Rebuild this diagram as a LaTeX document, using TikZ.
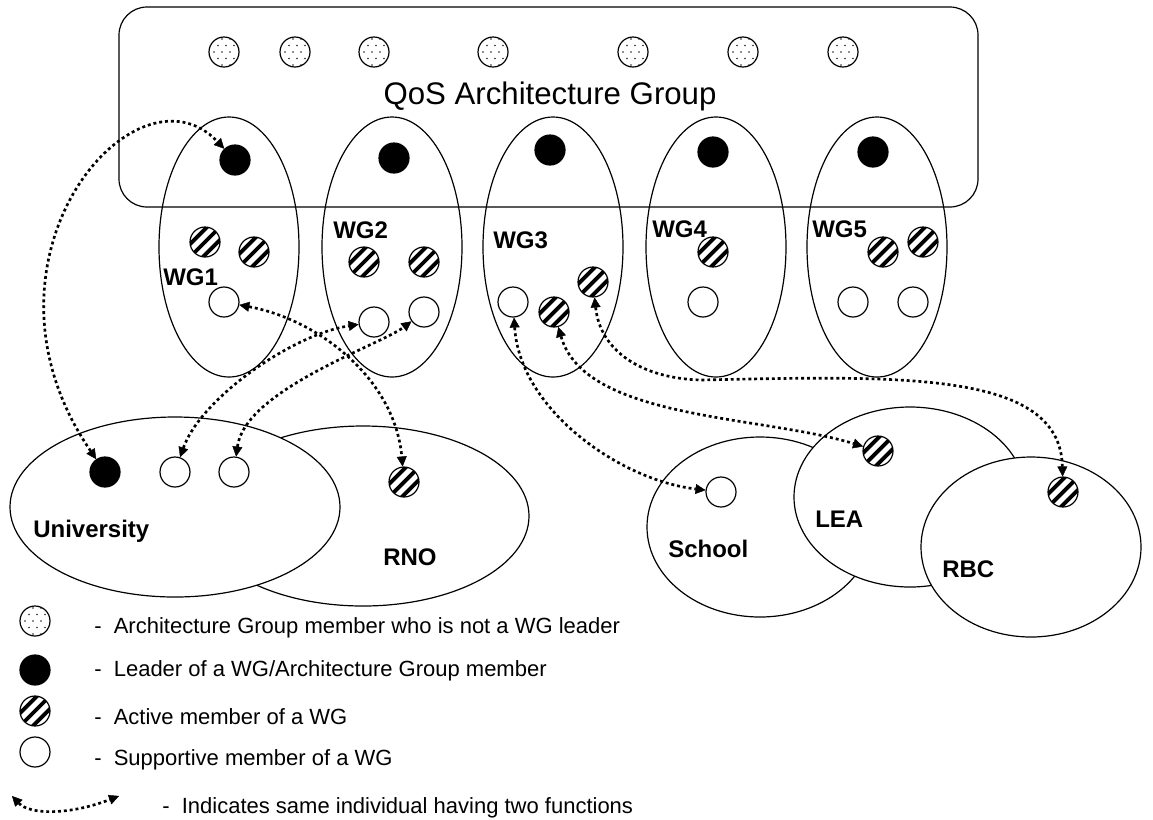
\documentclass[tikz,border=0pt]{standalone}
\usepackage{fontspec}
\setmainfont{Liberation Sans}
\usetikzlibrary{arrows.meta,shapes.geometric}
\begin{document}
\begin{tikzpicture}[x=0.75pt,y=-0.75pt,
  grp/.style={draw,ellipse,line width=0.9pt,inner sep=0pt},
  org/.style={grp,fill=white},
  mem/.style={circle,draw,line width=0.9pt,minimum size=22.5pt,inner sep=0pt},
  leader/.style={mem,fill=black},
  support/.style={mem,fill=white},
  active/.style={mem,fill=white,path picture={\foreach \o in {-1,0,1}{\draw[line width=2.9pt] ([shift={(\o*6.4-20,\o*6.4+20)}]path picture bounding box.center) -- ++(40,-40);}}},
  archm/.style={mem,fill=white,path picture={\foreach \i in {-1,0,1}{\foreach \j/\s in {-2/-2,-1/2,0/-2,1/2,2/-2}{\fill[black!85] ([shift={(\i*8+\s,\j*6.5)}]path picture bounding box.center) circle[radius=0.65pt];}}}},
  lbl/.style={font=\fontsize{18}{20}\selectfont\bfseries,inner sep=0pt,anchor=base west},
  leg/.style={font=\fontsize{16.5}{19}\selectfont,inner sep=0pt,anchor=base west},
  conn/.style={line width=2pt,dash pattern=on 2.2pt off 2.2pt,{Triangle[length=7.5pt,width=7.5pt,line width=0.3pt]}-{Triangle[length=7.5pt,width=7.5pt,line width=0.3pt]}}
]
\useasboundingbox (0,0) rectangle (1153,819);

% Architecture group box
\node[draw,rounded corners=21pt,line width=0.9pt,minimum width=644.25pt,minimum height=150pt,inner sep=0pt] (ag) at (548.5,107) {};
\node[font=\fontsize{23.4}{27}\selectfont,inner sep=0pt,anchor=base] (agl) at (550,104) {QoS Architecture Group};

% working groups
\node[grp,minimum width=105pt,minimum height=195pt] (wg1) at (229,247) {};
\node[grp,minimum width=105pt,minimum height=195pt] (wg2) at (392,247) {};
\node[grp,minimum width=105pt,minimum height=195pt] (wg3) at (553,247) {};
\node[grp,minimum width=105pt,minimum height=195pt] (wg4) at (716,247) {};
\node[grp,minimum width=105pt,minimum height=195pt] (wg5) at (877,247) {};

% organisations
\node[org,minimum width=249pt,minimum height=135pt] (rno) at (363,516) {};
\node[org,minimum width=247.5pt,minimum height=135pt] (uni) at (175,507) {};
\node[org,minimum width=169.5pt,minimum height=135pt] (sch) at (760,527) {};
\node[org,minimum width=174pt,minimum height=135pt] (leao) at (910,497) {};
\node[org,minimum width=165pt,minimum height=135pt] (rbc) at (1031,547) {};

% labels
\node[lbl] (t1) at (163,285) {WG1};
\node[lbl] (t2) at (333,238) {WG2};
\node[lbl] (t3) at (493,248) {WG3};
\node[lbl] (t4) at (652,237) {WG4};
\node[lbl] (t5) at (812,237) {WG5};
\node[lbl] (tu) at (33,537) {University};
\node[lbl] (tr) at (383,565) {RNO};
\node[lbl] (ts) at (668,557) {School};
\node[lbl] (tl) at (815,527) {LEA};
\node[lbl] (tb) at (942,577) {RBC};

% architecture group members
\node[archm] (ab1) at (224,52) {};
\node[archm] (ab2) at (295,52) {};
\node[archm] (ab3) at (374,52) {};
\node[archm] (ab4) at (493,52) {};
\node[archm] (ab5) at (633,52) {};
\node[archm] (ab6) at (743,52) {};
\node[archm] (ab7) at (843,52) {};

% leaders
\node[leader] (l1) at (235,160) {};
\node[leader] (l2) at (394,158) {};
\node[leader] (l3) at (550,150) {};
\node[leader] (l4) at (713,152) {};
\node[leader] (l5) at (873,152) {};

% WG members
\node[active] (a11) at (205,242) {};
\node[active] (a12) at (254,252) {};
\node[support] (s11) at (224,302) {};
\node[active] (a21) at (364,262) {};
\node[active] (a22) at (424,262) {};
\node[support] (s21) at (374,322) {};
\node[support] (s22) at (424,312) {};
\node[support] (s31) at (513,302) {};
\node[active] (a31) at (554,312) {};
\node[active] (a32) at (593,282) {};
\node[active] (a41) at (713,252) {};
\node[support] (s41) at (703,302) {};
\node[active] (a51) at (883,252) {};
\node[active] (a52) at (923,242) {};
\node[support] (s51) at (853,302) {};
\node[support] (s52) at (913,302) {};

% organisation members
\node[leader] (ul) at (105,472) {};
\node[support] (us1) at (175,472) {};
\node[support] (us2) at (234,472) {};
\node[active] (ra) at (404,482) {};
\node[support] (ss) at (721,492) {};
\node[active] (lea) at (878,451) {};
\node[active] (rba) at (1063,492) {};

% connectors
\draw[conn] (ul) .. controls (-40,260) and (135,55) .. (l1);
\draw[conn] (s11) .. controls (320,320) and (395,380) .. (ra);
\draw[conn] (us1) .. controls (200,400) and (290,335) .. (s21);
\draw[conn] (us2) .. controls (245,390) and (380,345) .. (s22);
\draw[conn] (s31) .. controls (520,410) and (620,480) .. (ss);
\draw[conn] (a31) .. controls (585,420) and (760,415) .. (lea);
\coordinate (m7) at (700,380);
\draw[conn] (a32) .. controls (600,350) and (640,378) .. (m7) .. controls (900,376) and (1060,370) .. (rba);

% legend
\node[archm] (k1) at (35,621) {};
\node[leader] (k2) at (35,670) {};
\node[active] (k3) at (35,711) {};
\node[support] (k4) at (35,752) {};
\node[leg] (g1) at (94,633) {- \ Architecture Group member who is not a WG leader};
\node[leg] (g2) at (94,676) {- \ Leader of a WG/Architecture Group member};
\node[leg] (g3) at (94,724) {- \ Active member of a WG};
\node[leg] (g4) at (94,765) {- \ Supportive member of a WG};
\coordinate (la) at (12,796);
\coordinate (lb) at (119,796);
\draw[conn] (la) .. controls (30,815) and (70,815) .. (lb);
\node[leg] (g5) at (162,813) {- \ Indicates same individual having two functions};
\end{tikzpicture}
\end{document}
